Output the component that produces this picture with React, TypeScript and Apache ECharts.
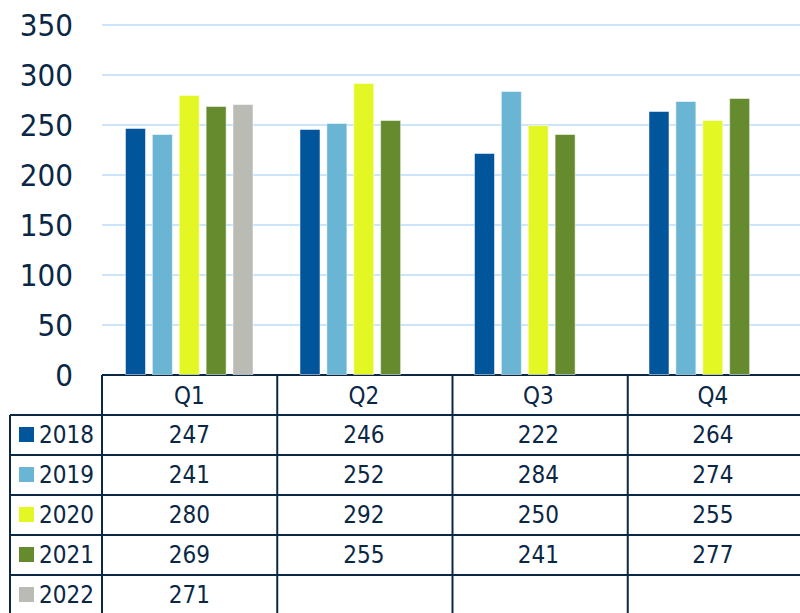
import React, { useEffect, useRef } from "react";
import * as echarts from "echarts";

const categories = ["Q1", "Q2", "Q3", "Q4"];
const years = ["2018", "2019", "2020", "2021", "2022"];
const v2018 = [247, 246, 222, 264];
const v2019 = [241, 252, 284, 274];
const v2020 = [280, 292, 250, 255];
const v2021 = [269, 255, 241, 277];
const v2022: (number | null)[] = [271, null, null, null];
const seriesValues = [v2018, v2019, v2020, v2021, v2022];
const colors = ["#00559b", "#6ab5d3", "#e3f724", "#668b2f", "#bbbbb5"];
const yTicks = [0, 50, 100, 150, 200, 250, 300, 350];

const TEXT = "#0a2746";
const FONT = "'DejaVu Sans Condensed', 'DejaVu Sans', sans-serif";

export default function App() {
  const ref = useRef<HTMLDivElement>(null);
  useEffect(() => {
    if (!ref.current) return;
    const chart = echarts.init(ref.current, undefined, { renderer: "svg" });
    const W = 800, H = 613;
    const gridLeft = 102, gridRight = -3, gridTop = 25, gridBottom = 238;
    const option: any = {
      animation: false,
      grid: { left: gridLeft, right: gridRight, top: gridTop, bottom: gridBottom },
      xAxis: {
        type: "category",
        data: categories,
        axisLine: { show: false },
        axisTick: { show: false },
        axisLabel: { show: false },
      },
      yAxis: {
        type: "value",
        min: yTicks[0],
        max: yTicks[yTicks.length - 1],
        interval: 50,
        axisLine: { show: false },
        axisTick: { show: false },
        axisLabel: { color: TEXT, fontSize: 31, fontFamily: FONT, margin: 29 },
        splitLine: { lineStyle: { color: "#cde5fa", width: 2 } },
      },
      series: years.map((y, i) => ({
        name: y,
        type: "bar",
        data: seriesValues[i],
        barWidth: 21,
        barGap: "28%",
        itemStyle: { color: colors[i], borderColor: "rgba(255,255,255,0.5)", borderWidth: 1 },
      })),
    };
    chart.setOption(option);

    const lineColor = "#0a2746";
    const lw = 2;
    const xAxisY = H - gridBottom;
    const headerH = 40;
    const rowH = 40;
    const tableLeft = 10;
    const centers = categories.map((c) => chart.convertToPixel({ xAxisIndex: 0 }, c) as number);
    const band = (W - gridRight - gridLeft) / categories.length;
    const bounds = categories.map((_, i) => gridLeft + i * band);
    const els: any[] = [];
    els.push({ type: "line", shape: { x1: gridLeft, y1: xAxisY, x2: W, y2: xAxisY }, style: { stroke: lineColor, lineWidth: lw } });
    for (let r = 0; r < years.length; r++) {
      const y = xAxisY + headerH + r * rowH;
      els.push({ type: "line", shape: { x1: tableLeft, y1: y, x2: W, y2: y }, style: { stroke: lineColor, lineWidth: lw } });
    }
    bounds.forEach((bx) => {
      els.push({ type: "line", shape: { x1: bx, y1: xAxisY, x2: bx, y2: H }, style: { stroke: lineColor, lineWidth: lw } });
    });
    els.push({ type: "line", shape: { x1: tableLeft, y1: xAxisY + headerH, x2: tableLeft, y2: H }, style: { stroke: lineColor, lineWidth: lw } });
    const tf = `24px ${FONT}`;
    categories.forEach((c, i) => {
      els.push({ type: "text", x: centers[i], y: xAxisY + headerH / 2 + 1, style: { text: c, fill: TEXT, font: tf, align: "center", verticalAlign: "middle" } });
    });
    years.forEach((yr, r) => {
      const cy = xAxisY + headerH + r * rowH + rowH / 2;
      els.push({ type: "rect", shape: { x: 19, y: cy - 8, width: 15, height: 15 }, style: { fill: colors[r] } });
      els.push({ type: "text", x: 39, y: cy, style: { text: yr, fill: TEXT, font: tf, align: "left", verticalAlign: "middle" } });
      seriesValues[r].forEach((v, i) => {
        if (v == null) return;
        els.push({ type: "text", x: centers[i], y: cy, style: { text: String(v), fill: TEXT, font: tf, align: "center", verticalAlign: "middle" } });
      });
    });
    chart.setOption({ graphic: { elements: els } });
    return () => chart.dispose();
  }, []);
  return <div ref={ref} style={{ width: 800, height: 613, position: "absolute", left: 0, top: 0 }} />;
}
